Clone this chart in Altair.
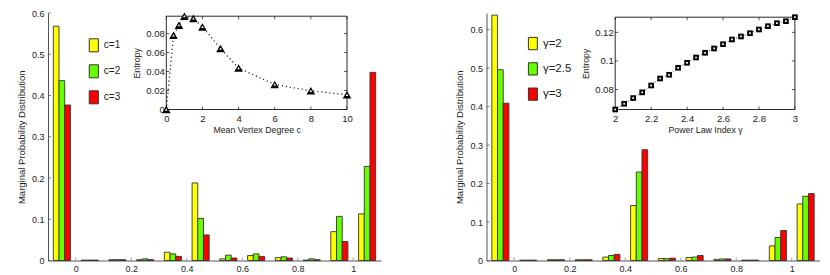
import altair as alt
import pandas as pd

# ---------------- data ----------------
bins = [-0.05, 0.05, 0.15, 0.25, 0.35, 0.45, 0.55, 0.65, 0.75, 0.85, 0.95, 1.05]

c_names = ["c=1", "c=2", "c=3"]
c1 = [0.568, 0.001, 0.002, 0.002, 0.020, 0.188, 0.004, 0.012, 0.007, 0.001, 0.070, 0.113]
c2 = [0.436, 0.001, 0.002, 0.004, 0.016, 0.102, 0.013, 0.016, 0.009, 0.004, 0.107, 0.228]
c3 = [0.377, 0.001, 0.002, 0.002, 0.010, 0.062, 0.006, 0.010, 0.006, 0.002, 0.046, 0.456]

g_names = ["γ=2", "γ=2.5", "γ=3"]
g1 = [0.638, 0.001, 0.002, 0.002, 0.009, 0.143, 0.005, 0.008, 0.003, 0.001, 0.038, 0.147]
g2 = [0.496, 0.001, 0.002, 0.002, 0.013, 0.230, 0.005, 0.009, 0.004, 0.001, 0.060, 0.167]
g3 = [0.409, 0.001, 0.002, 0.002, 0.016, 0.288, 0.006, 0.013, 0.004, 0.001, 0.078, 0.174]

deg_c = [0, 0.4, 0.7, 1, 1.5, 2, 3, 4, 6, 8, 10]
deg_H = [0.0, 0.0782, 0.0888, 0.0983, 0.0959, 0.0870, 0.0642, 0.0436, 0.0264, 0.0197, 0.0155]

gam = [2.00, 2.05, 2.10, 2.15, 2.20, 2.25, 2.30, 2.35, 2.40, 2.45, 2.50,
       2.55, 2.60, 2.65, 2.70, 2.75, 2.80, 2.85, 2.90, 2.95, 3.00]
gam_H = [0.0660, 0.0700, 0.0740, 0.0780, 0.0828, 0.0877, 0.0903, 0.0952, 0.0987, 0.1024, 0.1057,
         0.1087, 0.1117, 0.1150, 0.1171, 0.1194, 0.1220, 0.1243, 0.1264, 0.1278, 0.1306]

main_xticks = [0, 0.2, 0.4, 0.6, 0.8, 1]
main_yticks = [0, 0.1, 0.2, 0.3, 0.4, 0.5, 0.6]
deg_xticks = [0, 2, 4, 6, 8, 10]
deg_yticks = [0, 0.02, 0.04, 0.06, 0.08]
gam_xticks = [2, 2.2, 2.4, 2.6, 2.8, 3]
gam_yticks = [0.08, 0.1, 0.12]

bar_colors = ["#FFFF00", "#66FF00", "#FF0000"]

# ---------------- style ----------------
FONT = "Liberation Sans"
W, H = 333, 247.5
T_ABS = 12.5           # expected absolute top of plot area
BW = 0.0205            # single bar width in data units
INK = "#222222"


def ticks_x(values, scale_x, scale_y, at, offset, color):
    return alt.Chart(pd.DataFrame({"t": values, "p": [at] * len(values)})).mark_tick(
        orient="vertical", size=3, thickness=1, color=color, yOffset=offset
    ).encode(
        x=alt.X("t:Q", scale=scale_x, axis=None),
        y=alt.Y("p:Q", scale=scale_y, axis=None),
    )


def ticks_y(values, scale_x, scale_y, at, offset, color):
    return alt.Chart(pd.DataFrame({"t": values, "p": [at] * len(values)})).mark_tick(
        orient="horizontal", size=3, thickness=1, color=color, xOffset=offset
    ).encode(
        y=alt.Y("t:Q", scale=scale_y, axis=None),
        x=alt.X("p:Q", scale=scale_x, axis=None),
    )


def panel(names, series, ymax, leg, ins):
    rows = []
    for i, (n, vals) in enumerate(zip(names, series)):
        for b, v in zip(bins, vals):
            rows.append({"bin": b, "series": n, "idx": i, "value": v})
    df = pd.DataFrame(rows)

    xs = alt.Scale(domain=[-0.1, 1.1], nice=False, zero=False)
    ys = alt.Scale(domain=[0, ymax], nice=False, zero=False)

    bars = alt.Chart(df).transform_calculate(
        x0=f"datum.bin + (datum.idx - 1.5) * {BW}",
        x1=f"datum.bin + (datum.idx - 0.5) * {BW}",
        base="0",
    ).mark_rect(stroke="#333333", strokeWidth=0.9).encode(
        x=alt.X("x0:Q", scale=xs, axis=alt.Axis(
            orient="bottom", values=main_xticks, format="~r", title=None, ticks=False,
            labelPadding=4, labelFlush=False, labelOverlap=False)),
        x2="x1:Q",
        y=alt.Y("value:Q", scale=ys, axis=alt.Axis(
            orient="left", values=main_yticks, format="~r",
            title="Marginal Probability Distribution",
            ticks=False, labelPadding=4, titlePadding=5, labelFlush=False,
            labelOverlap=False, titleFontSize=9.5)),
        y2="base:Q",
        color=alt.Color("series:N", scale=alt.Scale(domain=names, range=bar_colors),
                        legend=alt.Legend(
                            orient="none", legendX=leg["x"], legendY=leg["y"], title=None,
                            symbolType=leg["path"], symbolSize=leg["size"],
                            symbolStrokeColor="#333333", symbolStrokeWidth=1,
                            labelFontSize=leg["font"], labelFont=FONT, labelColor=INK,
                            rowPadding=leg["row"], labelOffset=leg["off"])),
    )

    ixs = alt.Scale(domain=ins["xd"], range=ins["xr"], nice=False, zero=False)
    iys = alt.Scale(domain=ins["yd"], range=ins["yr"], nice=False, zero=False)

    box = alt.Chart(pd.DataFrame({"x0": [ins["xd"][0]], "x1": [ins["xd"][1]],
                                  "y0": [ins["yd"][0]], "y1": [ins["yd"][1]]})).mark_rect(
        fill="white", stroke="#111111", strokeWidth=0.9
    ).encode(
        x=alt.X("x0:Q", scale=ixs, axis=None),
        x2="x1:Q",
        y=alt.Y("y0:Q", scale=iys, axis=None),
        y2="y1:Q",
    )
    idf = pd.DataFrame({"a": ins["xv"], "b": ins["yv"]})
    line = alt.Chart(idf).mark_line(
        color="black", strokeDash=ins["dash"], strokeWidth=ins["lw"]
    ).encode(
        x=alt.X("a:Q", scale=ixs, axis=alt.Axis(
            orient="bottom", offset=-(H - ins["yr"][0]), values=ins["xt"], format="~r",
            title=ins["xtitle"], domain=False, ticks=False, labelPadding=4,
            titlePadding=2, labelFlush=False, labelOverlap=False,
            labelFontSize=9.5, titleFontSize=8.8)),
        y=alt.Y("b:Q", scale=iys, axis=alt.Axis(
            orient="left", offset=-ins["xr"][0], values=ins["yt"], format="~r",
            title="Entropy", domain=False, ticks=False, labelPadding=2,
            titlePadding=4, labelFlush=False, labelOverlap=False,
            labelFontSize=9.5, titleFontSize=8.8)),
    )
    pts = alt.Chart(idf).mark_point(
        shape=ins["shape"], filled=True, color="black", size=ins["msize"], opacity=1
    ).encode(x=alt.X("a:Q", scale=ixs, axis=None), y=alt.Y("b:Q", scale=iys, axis=None))
    pts_in = alt.Chart(idf).mark_point(
        shape=ins["shape"], filled=True, color="white", size=ins["isize"], opacity=1
    ).encode(x=alt.X("a:Q", scale=ixs, axis=None), y=alt.Y("b:Q", scale=iys, axis=None))

    layers = [
        bars,
        ticks_x(main_xticks, xs, ys, 0, -1.5, "#777777"),
        ticks_y(main_yticks, xs, ys, -0.1, 1.5, "#444444"),
        box,
        ticks_x(ins["xt"], ixs, iys, ins["yd"][0], -1.5, "#111111"),
        ticks_x(ins["xt"], ixs, iys, ins["yd"][1], 1.5, "#111111"),
        ticks_y(ins["yt"], ixs, iys, ins["xd"][0], 1.5, "#111111"),
        ticks_y(ins["yt"], ixs, iys, ins["xd"][1], -1.5, "#111111"),
        line, pts, pts_in,
    ]
    return alt.layer(*layers).resolve_scale(
        x="independent", y="independent"
    ).properties(width=W, height=H)


left = panel(
    c_names, [c1, c2, c3], 0.6,
    {"x": 38.8, "y": 44.3 - T_ABS - 6.5, "path": "M-0.7,-1H0.7V1H-0.7Z", "size": 169,
     "font": 10, "row": 8, "off": 3},
    {"xd": [0, 10], "yd": [0, 0.0983], "xr": [118.3, 299.0], "yr": [109 - T_ABS, 15.7 - T_ABS],
     "xv": deg_c, "yv": deg_H, "xt": deg_xticks, "yt": deg_yticks,
     "xtitle": "Mean Vertex Degree c", "shape": "triangle-up", "msize": 75, "isize": 7,
     "dash": [1, 3], "lw": 1.3},
)
right = panel(
    g_names, [g1, g2, g3], 0.65 * 247.5 / 250,
    {"x": 39.4, "y": 42.2 - T_ABS - 6.15, "path": "M-0.73,-1H0.73V1H-0.73Z", "size": 151,
     "font": 11.5, "row": 7.3, "off": 3},
    {"xd": [2, 3], "yd": [0.066, 0.1306], "xr": [128.7, 308.4], "yr": [109 - T_ABS, 16.7 - T_ABS],
     "xv": gam, "yv": gam_H, "xt": gam_xticks, "yt": gam_yticks,
     "xtitle": "Power Law Index γ", "shape": "square", "msize": 32, "isize": 3,
     "dash": [1, 2], "lw": 0.8},
)

chart = alt.hconcat(left, right, spacing=71.5).resolve_scale(
    color="independent"
).configure(
    font=FONT, padding={"left": 7, "top": 0, "right": 2, "bottom": 0}
).configure_axis(
    labelFont=FONT, titleFont=FONT, labelFontSize=9, labelColor=INK,
    titleColor=INK, titleFontWeight="normal", domainColor="#555555", grid=False,
).configure_view(stroke="transparent")

chart.save("out.html", embed_options={"renderer": "svg", "actions": False})
